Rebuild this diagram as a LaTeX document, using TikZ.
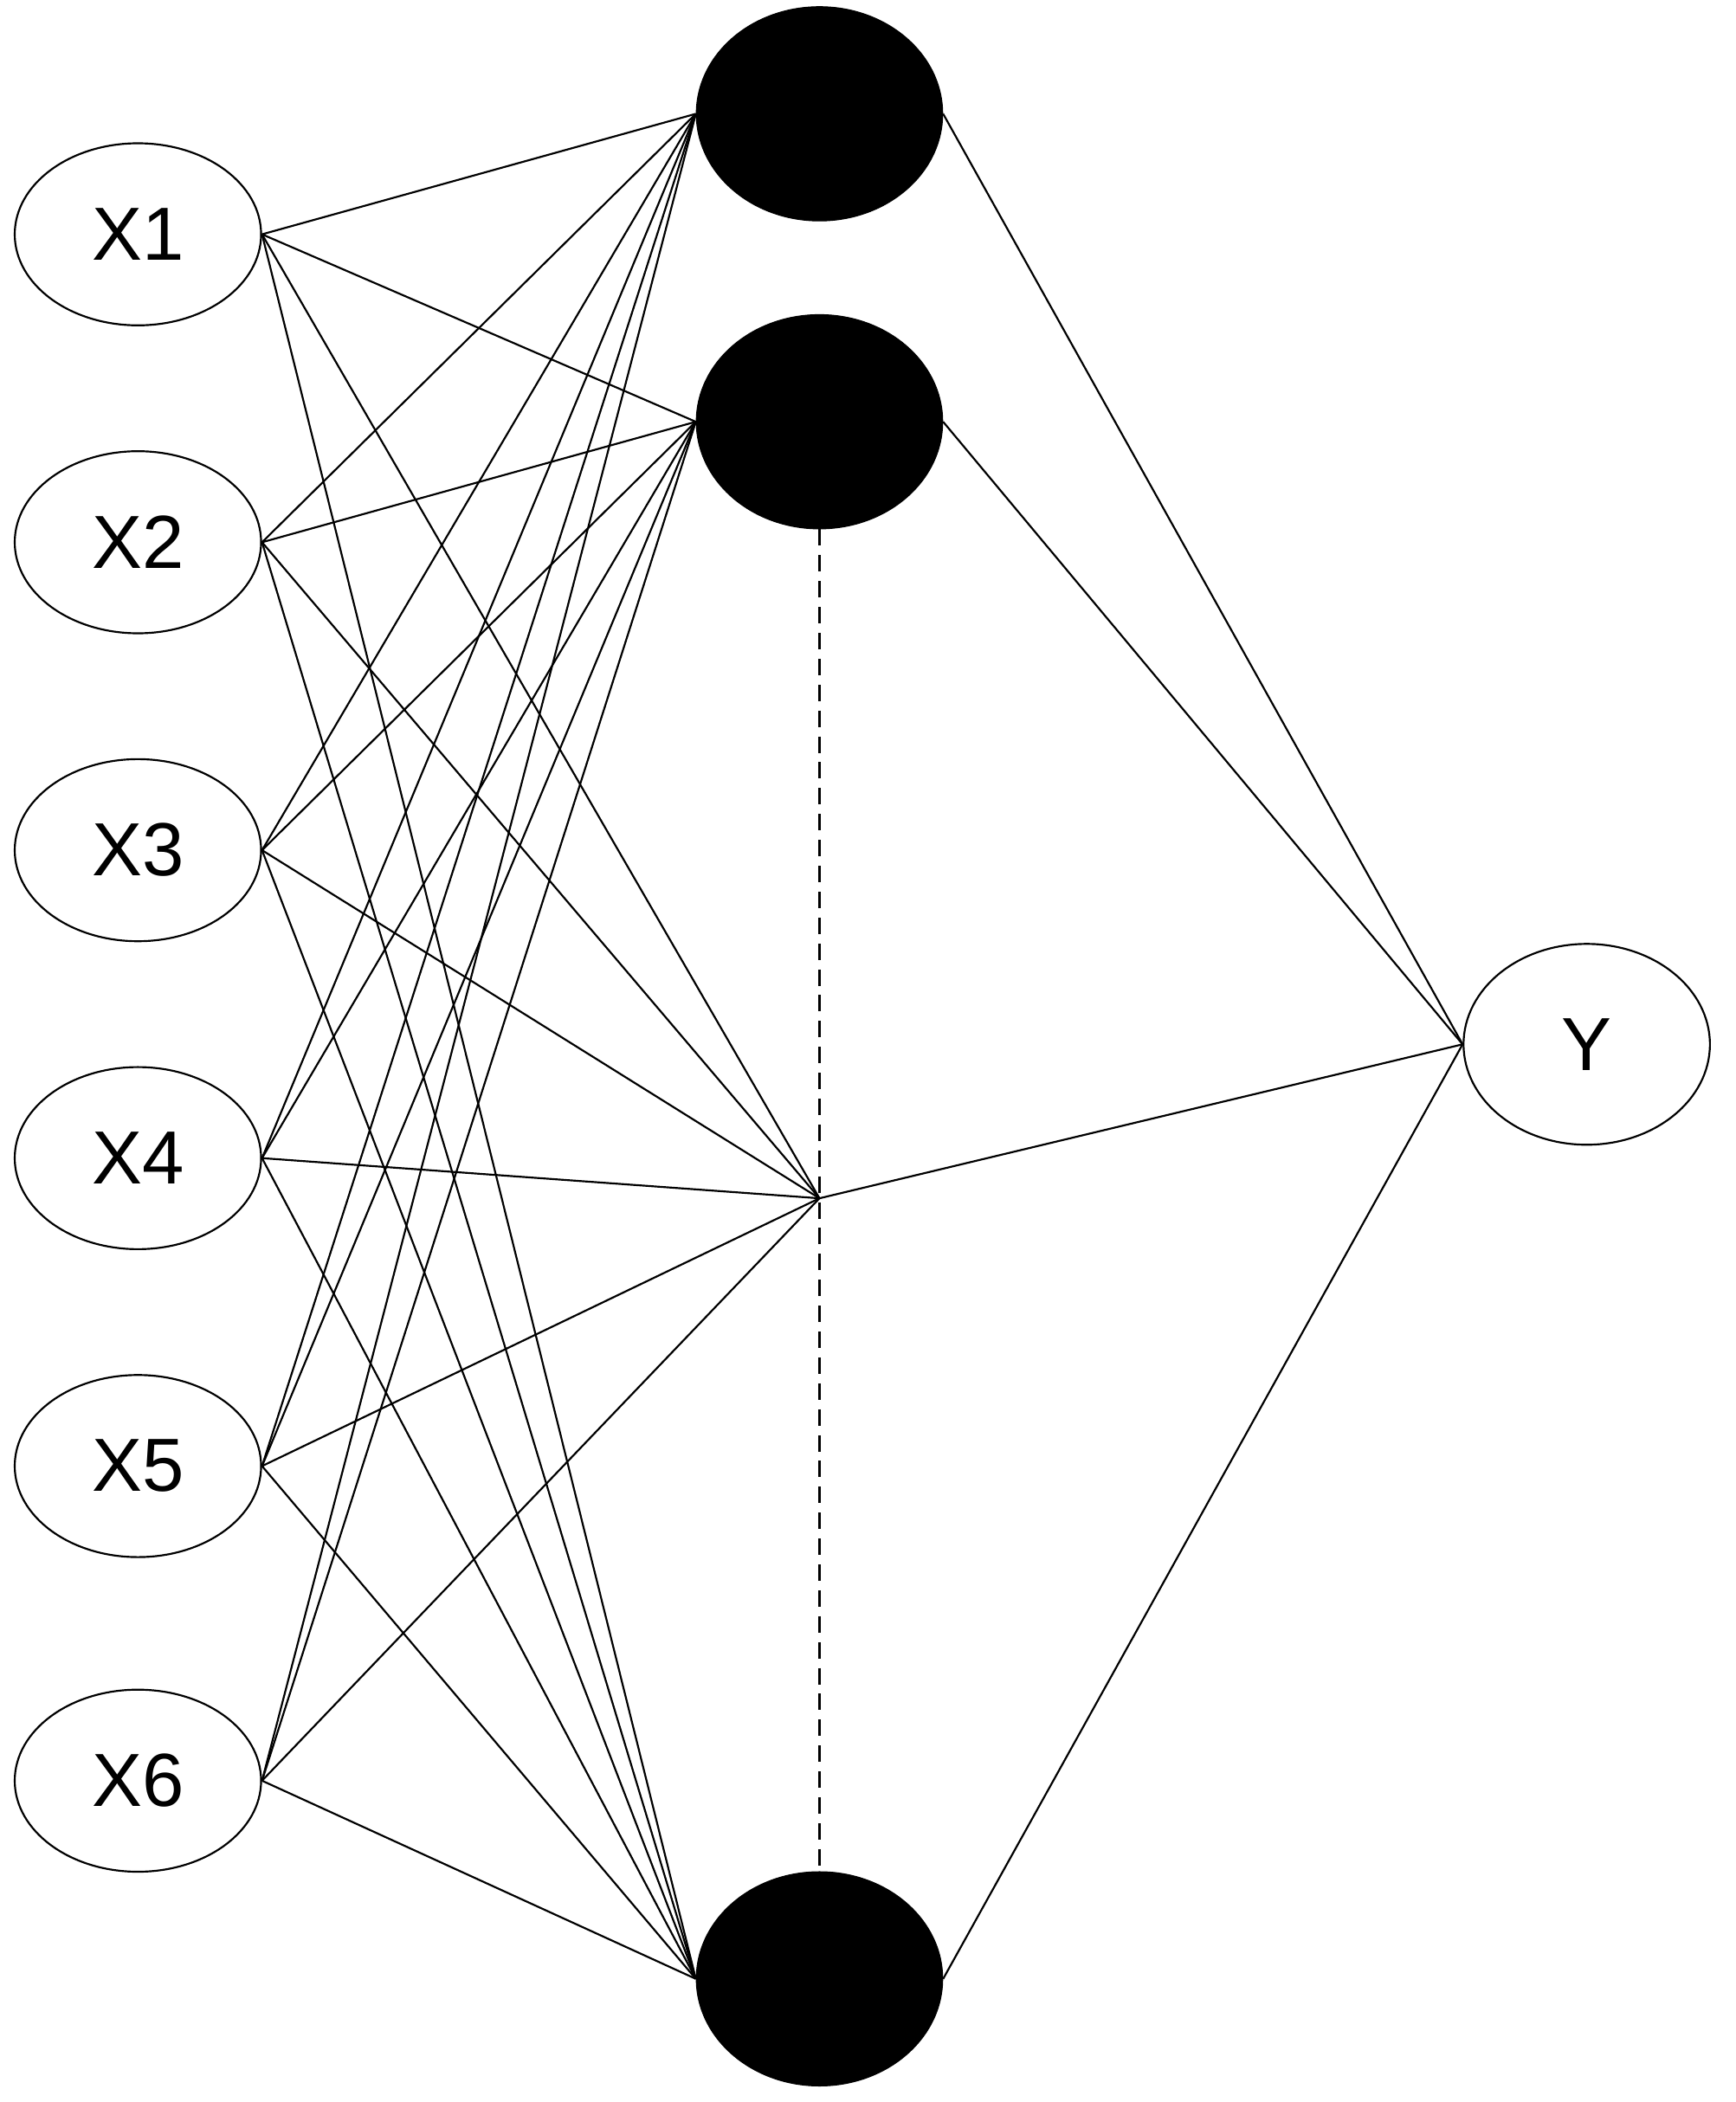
\documentclass[tikz,border=0pt]{standalone}
\usepackage{fontspec}
\setmainfont{Liberation Sans}
\usetikzlibrary{shapes.geometric}
\begin{document}
\begin{tikzpicture}[x=0.02cm,y=-0.02cm,
  inp/.style={draw,ellipse,minimum width=184*0.02cm,minimum height=136*0.02cm,inner sep=0pt,line width=0.8pt,font=\fontsize{32}{38}\selectfont},
  hid/.style={draw,ellipse,fill=black,minimum width=184*0.02cm,minimum height=160*0.02cm,inner sep=0pt},
  ln/.style={line width=0.8pt}]
\useasboundingbox (0,0) rectangle (1296,1570);
\foreach \i/\y in {1/175,2/405,3/635,4/865,5/1095,6/1330}
  \node[inp] (x\i) at (103,\y) {X\i};
\node[hid] (h1) at (612,85) {};
\node[hid] (h2) at (612,315) {};
\node[hid] (h3) at (612,1478) {};
\coordinate (m) at (612,895);
\node[inp,minimum height=150*0.02cm] (y) at (1185,780) {Y};
\draw[line width=1pt,dash pattern=on 7pt off 4pt] (h2.south) -- (h3.north);
\foreach \i in {1,...,6}{
  \draw[ln] (x\i.east) -- (h1.west);
  \draw[ln] (x\i.east) -- (h2.west);
  \draw[ln] (x\i.east) -- (m);
  \draw[ln] (x\i.east) -- (h3.west);
}
\draw[ln] (h1.east) -- (y.west);
\draw[ln] (h2.east) -- (y.west);
\draw[ln] (m) -- (y.west);
\draw[ln] (h3.east) -- (y.west);
\end{tikzpicture}
\end{document}
